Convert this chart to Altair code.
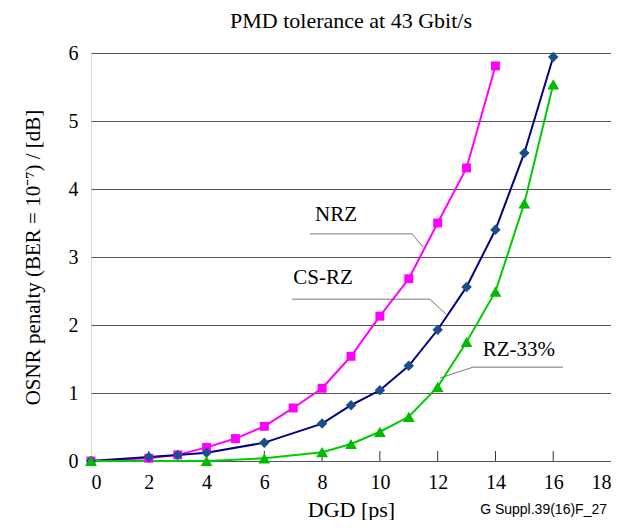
import altair as alt
import pandas as pd

# ---- data ----
nrz_x = [0, 2, 3, 4, 5, 6, 7, 8, 9, 10, 11, 12, 13, 14]
nrz_y = [0.0, 0.04, 0.09, 0.20, 0.33, 0.51, 0.78, 1.07, 1.54, 2.13, 2.68, 3.50, 4.31, 5.81]

csrz_x = [0, 2, 3, 4, 6, 8, 9, 10, 11, 12, 13, 14, 15, 16]
csrz_y = [0.0, 0.06, 0.09, 0.12, 0.27, 0.55, 0.82, 1.04, 1.40, 1.93, 2.56, 3.40, 4.53, 5.94]

rz33_x = [0, 4, 6, 8, 9, 10, 11, 12, 13, 14, 15, 16]
rz33_y = [0.0, 0.0, 0.04, 0.13, 0.25, 0.43, 0.65, 1.09, 1.75, 2.49, 3.79, 5.54]

series_names = ["NRZ", "CS-RZ", "RZ-33%"]
line_colors = ["#FF00FF", "#000080", "#00CC00"]
marker_colors = ["#FF00FF", "#1B4F8A", "#00BB00"]
marker_shapes = ["square", "diamond", "triangle-up"]
marker_sizes = [80, 140, 95]

x_ticks = [0, 2, 4, 6, 8, 10, 12, 14, 16, 18]
inner_ticks = [2, 4, 6, 8, 10, 12, 14, 16]
y_ticks = [0, 1, 2, 3, 4, 5, 6]

# annotation labels and leader lines (data coordinates)
label_text = ["NRZ", "CS-RZ", "RZ-33%"]
label_x = [8.48, 8.03, 14.81]
label_y = [3.62, 2.69, 1.63]
leader_id = ["NRZ", "NRZ", "NRZ", "CS-RZ", "CS-RZ", "CS-RZ", "RZ-33%", "RZ-33%", "RZ-33%"]
leader_ord = [0, 1, 2, 0, 1, 2, 0, 1, 2]
leader_x = [7.58, 11.11, 11.49, 6.96, 11.73, 12.29, 16.34, 13.22, 12.08]
leader_y = [3.34, 3.34, 3.15, 2.38, 2.38, 2.16, 1.38, 1.38, 1.22]

rows = []
for name, xs, ys in [("NRZ", nrz_x, nrz_y), ("CS-RZ", csrz_x, csrz_y), ("RZ-33%", rz33_x, rz33_y)]:
    for a, b in zip(xs, ys):
        rows.append({"series": name, "x": a, "y": b})
df = pd.DataFrame(rows)

labels_df = pd.DataFrame({"t": label_text, "x": label_x, "y": label_y})
leader_df = pd.DataFrame({"id": leader_id, "o": leader_ord, "x": leader_x, "y": leader_y})
ticks_df = pd.DataFrame({"x": inner_ticks})

SERIF = "Liberation Serif"

xscale = alt.Scale(domain=[0, 18], nice=False, zero=False)
yscale = alt.Scale(domain=[0, 6], nice=False, zero=False)

xaxis = alt.Axis(values=x_ticks, title="DGD [ps]", grid=False, ticks=False, domain=False,
                 format="d", labelPadding=11, labelFontSize=20,
                 titleFontSize=22, titleY=48, titleBaseline="middle")
yaxis = alt.Axis(values=y_ticks, title="OSNR penalty (BER = 10\u207b\u2077) / [dB]", grid=True,
                 format="d", ticks=False, domain=False, labelPadding=13, labelFontSize=20,
                 titleFontSize=21,
                 titleX=-58, titleY=204, titleAngle=-90, titleBaseline="middle", titleAlign="center")

X = alt.X("x:Q", scale=xscale, axis=xaxis)
Y = alt.Y("y:Q", scale=yscale, axis=yaxis)

base = alt.Chart(df)

inner = alt.Chart(ticks_df).mark_rule(color="#333333", strokeWidth=1).encode(
    x=X, y=alt.value(398), y2=alt.value(408))

lines = base.mark_line(strokeWidth=2).encode(
    x=X, y=Y,
    color=alt.Color("series:N", scale=alt.Scale(domain=series_names, range=line_colors), legend=None),
    detail="series:N")

points = base.mark_point(filled=True, opacity=1).encode(
    x=X, y=Y,
    fill=alt.Fill("series:N", scale=alt.Scale(domain=series_names, range=marker_colors), legend=None),
    shape=alt.Shape("series:N", scale=alt.Scale(domain=series_names, range=marker_shapes), legend=None),
    size=alt.Size("series:N", scale=alt.Scale(domain=series_names, range=marker_sizes), legend=None))

leaders = alt.Chart(leader_df).mark_line(color="#777777", strokeWidth=1).encode(
    x=X, y=Y, detail="id:N", order="o:Q")

texts = alt.Chart(labels_df).mark_text(font=SERIF, fontSize=21, color="black",
                                        align="center", baseline="middle").encode(
    x=X, y=Y, text="t:N")

foot = alt.Chart(pd.DataFrame({"t": ["G Suppl.39(16)F_27"]})).mark_text(
    font="Liberation Sans", fontSize=14, color="black", align="right", baseline="middle").encode(
    x=alt.value(516), y=alt.value(457), text="t:N")

chart = alt.layer(inner, leaders, lines, points, texts, foot).properties(
    width=520, height=408,
    title=alt.TitleParams("PMD tolerance at 43 Gbit/s", font=SERIF, fontSize=22,
                          fontWeight="normal", color="black", anchor="middle", offset=10),
    autosize=alt.AutoSizeParams(type="none"),
    padding={"left": 83, "top": 45, "right": 0, "bottom": 59},
).configure_view(stroke="black", strokeWidth=1.5).configure(background="white").configure_axis(
    labelFont=SERIF, labelColor="black",
    titleFont=SERIF, titleFontWeight="normal", titleColor="black",
    gridColor="#555555", gridWidth=1, gridOpacity=1)

chart.save("out.html", embed_options={"renderer": "svg", "actions": False})
